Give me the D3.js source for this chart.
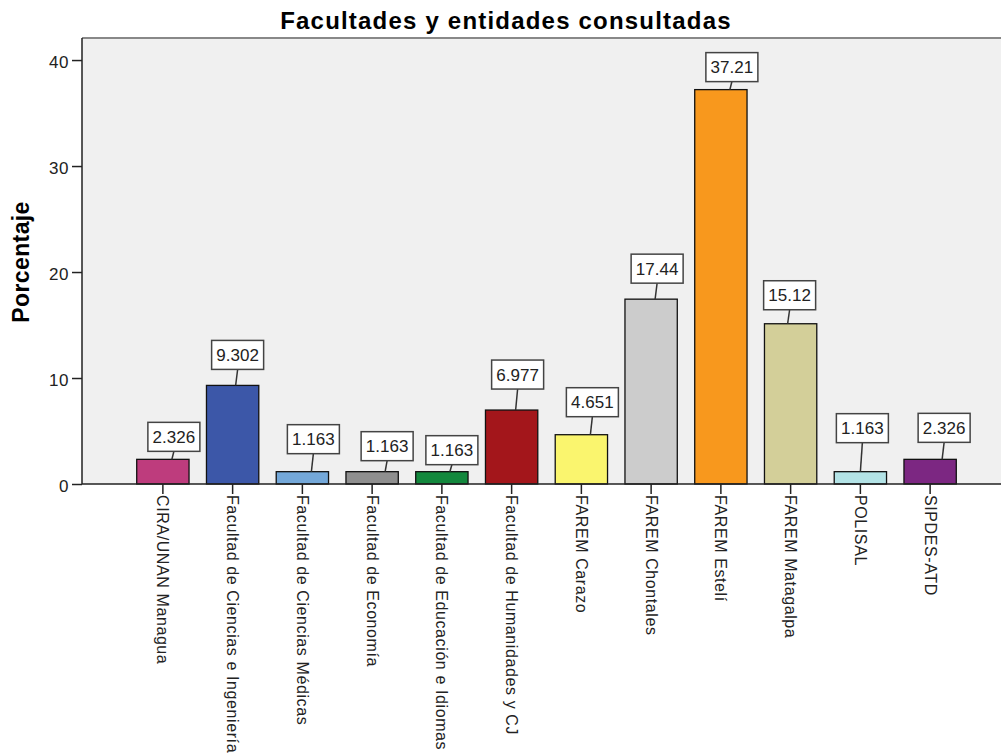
<!DOCTYPE html>
<html>
<head>
<meta charset="utf-8">
<script src="https://cdn.jsdelivr.net/npm/d3@7"></script>
<style>
  body { margin: 0; background: #fff; }
  text { font-family: "Liberation Sans", Arial, sans-serif; }
</style>
</head>
<body>
<svg width="1001" height="756"></svg>
<script>
var categories = ["CIRA/UNAN Managua", "Facultad de Ciencias e Ingeniería", "Facultad de Ciencias Médicas",
    "Facultad de Economía", "Facultad de Educación e Idiomas", "Facultad de Humanidades y CJ",
    "FAREM Carazo", "FAREM Chontales", "FAREM Estelí", "FAREM Matagalpa", "POLISAL", "SIPDES-ATD"];
var percents = [2.326, 9.302, 1.163, 1.163, 1.163, 6.977, 4.651, 17.44, 37.21, 15.12, 1.163, 2.326];
var labels = ["2.326", "9.302", "1.163", "1.163", "1.163", "6.977", "4.651", "17.44", "37.21", "15.12", "1.163", "2.326"];
var yTicks = [0, 10, 20, 30, 40];

var colors = ["#BE3C7D", "#3C57A8", "#74A8D9", "#8F8F8F", "#13883D", "#A3161B",
    "#FAF56E", "#CCCCCC", "#F8981D", "#D3CF99", "#B3E3E6", "#7C2782"];
// label box placement: [shift right of bar centre, gap above bar]
var labelNudge = [[11, 8], [5, 16], [11, 18], [15, 11], [10, 7], [6, 21],
    [11, 18], [6, 16], [11, 8], [-1, 14], [2, 29], [14, 17]];

var svg = d3.select("svg");
var plotLeft = 82, plotTop = 38, plotRight = 1001, plotBottom = 484;

var x = d3.scaleBand()
    .domain(categories)
    .range([128, 965])
    .paddingInner(0.25)
    .paddingOuter(0.125);

var y = d3.scaleLinear()
    .domain([0, 42.08])
    .range([plotBottom, plotTop]);

// plot background
svg.append("rect")
    .attr("x", plotLeft).attr("y", plotTop)
    .attr("width", plotRight - plotLeft).attr("height", plotBottom - plotTop)
    .style("fill", "#F0F0F0");

svg.append("line")
    .attr("x1", plotLeft).attr("x2", plotRight)
    .attr("y1", plotTop).attr("y2", plotTop)
    .style("stroke", "#888").style("stroke-width", 2);

// title
svg.append("text")
    .attr("x", 506).attr("y", 29)
    .attr("text-anchor", "middle")
    .style("font-size", "24px").style("font-weight", "bold")
    .style("letter-spacing", "1.2px")
    .text("Facultades y entidades consultadas");

// y label
svg.append("text")
    .attr("transform", "translate(29,262) rotate(-90)")
    .attr("text-anchor", "middle")
    .style("font-size", "23px").style("font-weight", "bold")
    .style("letter-spacing", "0.4px")
    .text("Porcentaje");

// bars
svg.selectAll(".bar")
    .data(percents)
    .enter()
    .append("rect")
        .attr("class", "bar")
        .attr("x", function(d, i) { return x(categories[i]); })
        .attr("y", function(d) { return y(d); })
        .attr("width", x.bandwidth())
        .attr("height", function(d) { return plotBottom - y(d); })
        .style("fill", function(d, i) { return colors[i]; })
        .style("stroke", "#111")
        .style("stroke-width", 1.3);

// y axis
var yAxis = svg.append("g")
    .attr("transform", "translate(" + plotLeft + ",0)")
    .call(d3.axisLeft(y).tickValues(yTicks).tickSize(10).tickPadding(3));
yAxis.select(".domain").attr("d", "M0," + plotTop + "V" + plotBottom).style("stroke", "#222").style("stroke-width", 1.5);
yAxis.selectAll(".tick line").style("stroke", "#222").style("stroke-width", 1.5);
yAxis.selectAll(".tick text")
    .attr("dy", "0.45em")
    .style("font-size", "17px").style("letter-spacing", "0.5px")
    .style("font-family", "'Liberation Sans', Arial, sans-serif")
    .style("fill", "#222");

// x axis
var xAxis = svg.append("g")
    .attr("transform", "translate(0," + plotBottom + ")")
    .call(d3.axisBottom(x).tickSize(10).tickPadding(0));
xAxis.select(".domain").attr("d", "M" + plotLeft + ",0H" + plotRight).style("stroke", "#222").style("stroke-width", 1.5);
xAxis.selectAll(".tick line").style("stroke", "#222").style("stroke-width", 1.5);
xAxis.selectAll(".tick text")
    .attr("transform", "rotate(90)")
    .attr("x", 11).attr("y", 0).attr("dy", "0.35em")
    .attr("text-anchor", "start")
    .style("font-size", "16px").style("letter-spacing", "0.6px")
    .style("font-family", "'Liberation Sans', Arial, sans-serif")
    .style("fill", "#222");

// value labels
var boxW = 52, boxH = 29;
var lab = svg.selectAll(".lab")
    .data(percents)
    .enter()
    .append("g")
        .attr("class", "lab");

lab.append("line")
    .attr("x1", function(d, i) { return x(categories[i]) + x.bandwidth() / 2 + labelNudge[i][0]; })
    .attr("y1", function(d, i) { return y(d) - labelNudge[i][1]; })
    .attr("x2", function(d, i) { return x(categories[i]) + x.bandwidth() / 2 + labelNudge[i][0] - 2; })
    .attr("y2", function(d) { return y(d); })
    .style("stroke", "#333").style("stroke-width", 1.5);

lab.append("rect")
    .attr("x", function(d, i) { return x(categories[i]) + x.bandwidth() / 2 + labelNudge[i][0] - boxW / 2; })
    .attr("y", function(d, i) { return y(d) - labelNudge[i][1] - boxH; })
    .attr("width", boxW).attr("height", boxH)
    .style("fill", "#fff")
    .style("stroke", "#444").style("stroke-width", 1.5);

lab.append("text")
    .attr("x", function(d, i) { return x(categories[i]) + x.bandwidth() / 2 + labelNudge[i][0]; })
    .attr("y", function(d, i) { return y(d) - labelNudge[i][1] - boxH / 2; })
    .attr("dy", "0.36em")
    .attr("text-anchor", "middle")
    .style("font-size", "17px")
    .style("fill", "#222")
    .text(function(d, i) { return labels[i]; });
</script>
</body>
</html>
